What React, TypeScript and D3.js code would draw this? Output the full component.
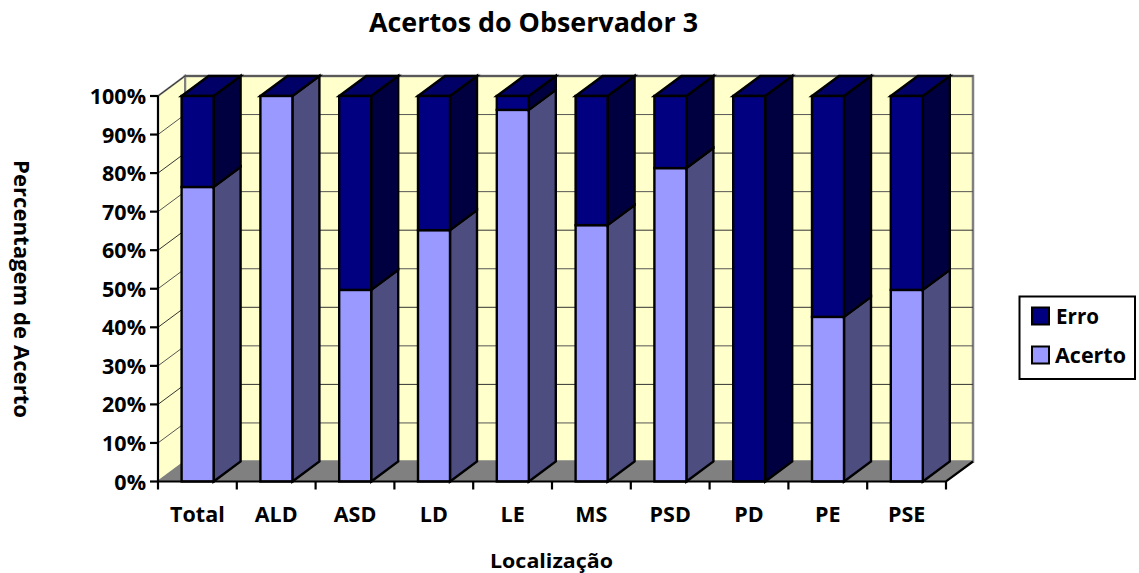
import React from "react";
import * as d3 from "d3";

const categories = ["Total", "ALD", "ASD", "LD", "LE", "MS", "PSD", "PD", "PE", "PSE"];
const acerto = [76.4, 100, 49.7, 65.2, 96.4, 66.5, 81.3, 0, 42.7, 49.7];
const erro = [23.6, 0, 50.3, 34.8, 3.6, 33.5, 18.7, 100, 57.3, 50.3];
const yTicks = [0, 10, 20, 30, 40, 50, 60, 70, 80, 90, 100];

const W = 1139, H = 573;
const X0 = 158, X1 = 946, Y0 = 481.5, Y1 = 96, DX = 27, DY = -20;
const FONT = "'Open Sans', sans-serif";

const x = d3.scaleBand<string>().domain(categories).range([X0, X1]).paddingInner(0).paddingOuter(0);
const y = d3.scaleLinear().domain([0, 100]).range([Y0, Y1]);
const BAR_W = 32;

const poly = (pts: [number, number][]) => d3.line()(pts)! + "Z";

function Box({ bx, top, bottom, front, side, topFill }: { bx: number; top: number; bottom: number; front: string; side: string; topFill?: string }) {
  const bw = BAR_W;
  return (
    <g stroke="#000" strokeWidth={2.4} strokeLinejoin="miter">
      <path d={poly([[bx + bw, top], [bx + bw + DX, top + DY], [bx + bw + DX, bottom + DY], [bx + bw, bottom]])} fill={side} />
      {topFill && <path d={poly([[bx, top], [bx + DX, top + DY], [bx + bw + DX, top + DY], [bx + bw, top]])} fill={topFill} />}
      <rect x={bx} y={top} width={bw} height={bottom - top} fill={front} />
    </g>
  );
}

export default function App() {
  return (
    <svg width={W} height={H} style={{ position: "absolute", left: 0, top: 0, background: "#fff" }} fontFamily={FONT} fontWeight={700}>
      <text x={533.5} y={32} textAnchor="middle" fontSize={26.5} fill="#000" textLength={329} lengthAdjust="spacingAndGlyphs">Acertos do Observador 3</text>

      {/* walls */}
      <path d={poly([[X0 + DX, Y1 + DY], [X1 + DX, Y1 + DY], [X1 + DX, Y0 + DY], [X0 + DX, Y0 + DY]])} fill="#FFFFCC" stroke="#808080" strokeWidth={2.5} />
      <path d={poly([[X0, Y1], [X0 + DX, Y1 + DY], [X0 + DX, Y0 + DY], [X0, Y0]])} fill="#FFFFCC" stroke="#808080" strokeWidth={2} />
      <path d={poly([[X0, Y0], [X0 + DX, Y0 + DY], [X1 + DX, Y0 + DY], [X1, Y0]])} fill="#808080" stroke="#808080" strokeWidth={1} />

      {/* gridlines */}
      {yTicks.slice(1).map((t) => (
        <path key={t} d={d3.line()([[X0, y(t)], [X0 + DX, y(t) + DY], [X1 + DX, y(t) + DY]])!} fill="none" stroke={t % 20 === 0 ? "#333" : "#555"} strokeWidth={1} />
      ))}

      {/* bars */}
      {categories.map((c, i) => {
        const bx = x(c)! + (x.bandwidth() - BAR_W) / 2 + 0.2;
        return (
          <g key={c}>
            {acerto[i] > 0 && (
              <Box bx={bx} top={y(acerto[i])} bottom={y(0)} front="#9999FF" side="#4D4D80" topFill={erro[i] > 0 ? undefined : "#000066"} />
            )}
            {erro[i] > 0 && (
              <Box bx={bx} top={y(acerto[i] + erro[i])} bottom={y(acerto[i])} front="#000080" side="#000040" topFill="#000066" />
            )}
          </g>
        );
      })}

      {/* axes */}
      <g stroke="#000" strokeWidth={2.2} fill="none">
        <path d={`M${X0},${Y1}V${Y0}H${X1}L${X1 + DX},${Y0 + DY}`} />
        {yTicks.map((t) => <path key={t} d={`M${X0 - 8},${y(t)}H${X0}`} />)}
        {d3.range(categories.length + 1).map((i) => {
          const tx = X0 + (i * (X1 - X0)) / categories.length;
          return <path key={i} d={`M${tx},${Y0}V${Y0 + 8}`} />;
        })}
      </g>

      {/* tick labels */}
      {yTicks.map((t) => (
        <text key={t} x={146} y={y(t) + 8} textAnchor="end" fontSize={21.5} fill="#000">{t}%</text>
      ))}
      {categories.map((c) => (
        <text key={c} x={x(c)! + x.bandwidth() / 2} y={522} textAnchor="middle" fontSize={21.5} fill="#000">{c}</text>
      ))}

      <text x={551.5} y={568} textAnchor="middle" fontSize={20} fill="#000" textLength={123} lengthAdjust="spacingAndGlyphs">Localização</text>
      <text transform="translate(14,289) rotate(90)" textAnchor="middle" fontSize={22} fill="#000" textLength={258} lengthAdjust="spacingAndGlyphs">Percentagem de Acerto</text>

      {/* legend */}
      <rect x={1019.5} y={296.5} width={115.5} height={82.5} fill="#fff" stroke="#000" strokeWidth={2} />
      <rect x={1032} y={307.5} width={17} height={17} fill="#000080" stroke="#000" strokeWidth={2} />
      <rect x={1032} y={346.5} width={17} height={17} fill="#9999FF" stroke="#000" strokeWidth={2} />
      <text x={1056} y={324} fontSize={21} fill="#000" textLength={43} lengthAdjust="spacingAndGlyphs">Erro</text>
      <text x={1055} y={363} fontSize={21} fill="#000" textLength={71} lengthAdjust="spacingAndGlyphs">Acerto</text>
    </svg>
  );
}
